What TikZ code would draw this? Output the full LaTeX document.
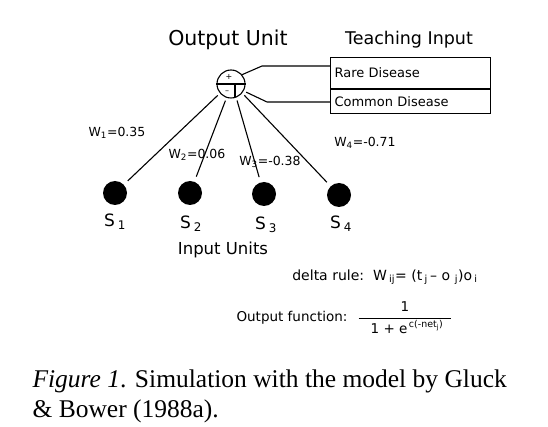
\documentclass[tikz,border=0pt]{standalone}
\usepackage{fontspec}
\usepackage{amsmath}
\setmainfont{Liberation Serif}
\newfontfamily\plotfont{DejaVu Sans}
\usetikzlibrary{calc}

\tikzset{
  inunit/.style={circle,fill=black,minimum size=24pt,inner sep=0pt},
  wlabel/.style={font=\plotfont\fontsize{12.5}{14}\selectfont},
  rlabel/.style={font=\plotfont\fontsize{13.5}{15}\selectfont},
  slabel/.style={font=\plotfont\fontsize{17}{19}\selectfont},
  teachbox/.style={rectangle,draw,anchor=north west,text width=152pt,inner xsep=4pt,minimum width=160pt,align=left,font=\plotfont\fontsize{13}{15}\selectfont},
}

\begin{document}
\begin{tikzpicture}[x=1pt,y=-1pt,line width=1.1pt]
\useasboundingbox (0,0) rectangle (548,427);

% output unit
\node[circle,draw,minimum size=28pt,inner sep=0pt] (ou) at (231,84) {};
\draw (ou.west) -- (ou.east);
\draw ([xshift=4pt]ou.center) -- ++(0,13.4);
\node[font=\plotfont\fontsize{8}{9}\selectfont,inner sep=0pt] (plus) at (229,77) {+};
\node[font=\plotfont\fontsize{8}{9}\selectfont,inner sep=0pt] (minus) at (227,92) {–};

\node[font=\plotfont\fontsize{20.5}{23}\selectfont] (outtitle) at (228,40) {Output Unit};
\node[font=\plotfont\fontsize{17.5}{20}\selectfont] (teachtitle) at (409,40) {Teaching Input};

% teaching input
\node[teachbox,minimum height=31pt] (rare) at (330,57) {Rare Disease};
\node[teachbox,minimum height=24pt] (common) at (rare.south west) {Common Disease};

\coordinate (rk) at (262,66);
\coordinate (ck) at (267,102);
\draw (ou.40) -- (rk) -- (rk -| rare.west);
\draw ([shift={(2pt,-2pt)}]ou.-25) -- (ck) -- (ck -| common.west);

% input units
\node[inunit] (s1) at (115,193) {};
\node[inunit] (s2) at (190,193) {};
\node[inunit] (s3) at (264,194) {};
\node[inunit] (s4) at (339,195) {};
\node[slabel] (sl1) at (115,222) {S\,\textsubscript{1}};
\node[slabel] (sl2) at (191,224) {S\,\textsubscript{2}};
\node[slabel] (sl3) at (266,225) {S\,\textsubscript{3}};
\node[slabel] (sl4) at (341,224) {S\,\textsubscript{4}};
\node[font=\plotfont\fontsize{16.5}{19}\selectfont] (inunits) at (223,250) {Input Units};

\draw[shorten <=3pt,shorten >=5pt] (ou.220) -- (s1);
\draw[shorten <=3pt,shorten >=5pt] (ou.252) -- (s2);
\draw[shorten <=3pt,shorten >=5pt] (ou.291) -- (s3);
\draw[shorten <=3pt,shorten >=5pt] (ou.321) -- (s4);

% weights
\node[wlabel] (w1) at (117,133) {W\textsubscript{1}=0.35};
\node[wlabel] (w2) at (197,155) {W\textsubscript{2}=0.06};
\node[wlabel] (w3) at (270,162) {W\textsubscript{3}=-0.38};
\node[wlabel] (w4) at (365,143) {W\textsubscript{4}=-0.71};

% rules
\node[rlabel,font=\plotfont\fontsize{14}{16}\selectfont] (delta) at (385,277) {delta rule:\ \ W\,\textsubscript{ij}= (t\,\textsubscript{j}\,– o\,\,\textsubscript{j})o\,\textsubscript{i}};
\node[rlabel] (outfn) at (292,318) {Output function:};
\node[rlabel] (frac) at (405,318) {$\dfrac{\text{1}}{\;\;\;\text{1 + e}^{\,\text{c(-net}_{\text{j}}\text{)}}\;\;}$};

% caption
\node[anchor=base west,inner sep=0pt,font=\fontsize{25.5}{30}\selectfont] (cap1) at (32,387) {\textit{Figure 1}. Simulation with the model by Gluck};
\node[anchor=base west,inner sep=0pt,font=\fontsize{25.5}{30}\selectfont] (cap2) at (32,417) {\& Bower (1988a).};
\end{tikzpicture}
\end{document}
